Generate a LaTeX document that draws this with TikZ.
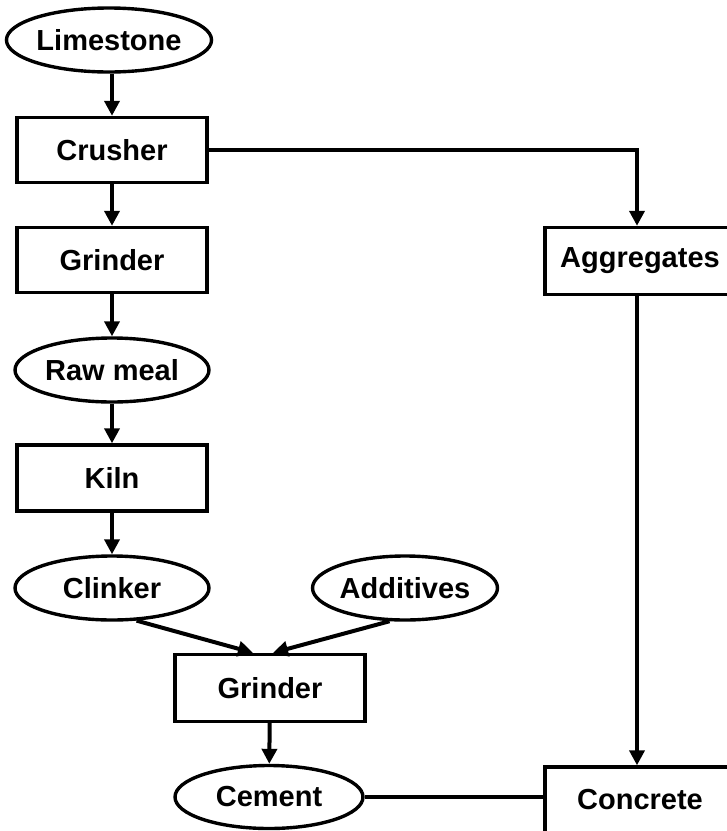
\documentclass[tikz,border=0pt]{standalone}
\usepackage{fontspec}
\setmainfont{Liberation Sans}
\usetikzlibrary{shapes.geometric,arrows.meta,calc}
\begin{document}
\begin{tikzpicture}[x=1pt,y=-1pt,
  every node/.style={font=\fontsize{29}{32}\selectfont\bfseries},
  boxnode/.style={draw, line width=3.4pt, rectangle, minimum width=190pt, minimum height=65pt, inner sep=0pt},
  ovalnode/.style={draw, line width=3.4pt, ellipse, minimum width=192pt, minimum height=64pt, inner sep=0pt},
  flow/.style={line width=4pt, -{Triangle[length=15pt,width=15pt]}},
  link/.style={line width=4pt}]
\useasboundingbox (0,0) rectangle (727,831);
\node[ovalnode] (lime) at (109,40) {Limestone};
\node[boxnode] (crush) at (112,150) {Crusher};
\node[boxnode] (grind1) at (112,260) {Grinder};
\node[ovalnode, minimum width=194pt] (raw) at (112,370) {Raw meal};
\node[boxnode, minimum height=66pt] (kiln) at (112,478) {Kiln};
\node[ovalnode, minimum width=194pt] (clink) at (112,588) {Clinker};
\node[ovalnode, minimum width=185pt] (addit) at (405,588) {Additives};
\node[boxnode, minimum height=67pt] (grind2) at (270,688) {Grinder};
\node[ovalnode, minimum width=188pt, minimum height=63pt] (cement) at (269,797) {Cement};
\node[boxnode, minimum height=67pt] (aggr) at (640,261) {Aggregates};
\node[boxnode, minimum height=66pt] (concr) at (640,800) {Concrete};
\draw[flow] (crush.north |- lime.south) -- (crush.north);
\draw[flow] (crush) -- (grind1);
\draw[flow] (grind1) -- (raw);
\draw[flow] (raw) -- (kiln);
\draw[flow] (kiln) -- (clink);
\draw[flow] (clink.-53) -- ($(grind2.north)+(-17,0)$);
\draw[flow] (addit.-115) -- ($(grind2.north)+(3,0)$);
\draw[flow] (grind2) -- (cement);
\draw[flow] (crush.east) -| ($(aggr.north)+(-3,0)$);
\draw[flow] ($(aggr.south)+(-3,0)$) -- ($(concr.north)+(-3,0)$);
\draw[link] (cement.east) -- (cement.east -| concr.west);
\end{tikzpicture}
\end{document}
